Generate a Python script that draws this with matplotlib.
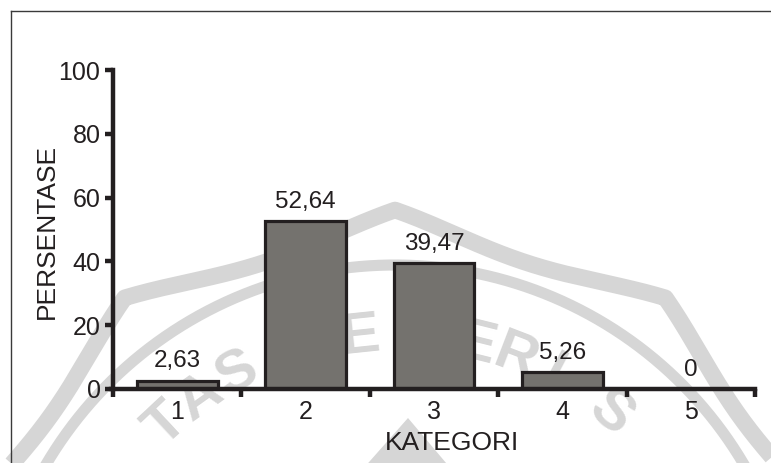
import numpy as np
import matplotlib
matplotlib.use("Agg")
import matplotlib.pyplot as plt
from matplotlib.lines import Line2D
from matplotlib.patches import Polygon
from matplotlib.ticker import FixedLocator, NullFormatter

# Data
categories = ["1", "2", "3", "4", "5"]
values = [2.63, 52.64, 39.47, 5.26, 0]
value_labels = ["2,63", "52,64", "39,47", "5,26", "0"]
y_ticks = [0, 20, 40, 60, 80, 100]

plt.rcParams["font.family"] = ["Liberation Sans", "DejaVu Sans"]

W, H = 771, 463
fig = plt.figure(figsize=(W / 100, H / 100), dpi=100)
fig.patch.set_facecolor("white")

# ---- faint seal watermark in the background (pixel coordinates) ----
bg = fig.add_axes([0, 0, 1, 1], zorder=0)
bg.set_xlim(0, W)
bg.set_ylim(H, 0)
bg.axis("off")
wm = "#d6d6d6"
cx, cy = 395, 670

th = np.radians(np.linspace(0, 180, 721))
# scalloped outer border
r_out = 428 + 32 * (1 - np.abs(np.sin(5 * (th - np.pi / 2))))
bg.plot(cx + r_out * np.cos(th), cy - r_out * np.sin(th), color=wm,
        lw=12, solid_capstyle="butt", zorder=0)
# inner ring above the lettering
r_in = 405
th_in = np.radians(np.linspace(20, 160, 400))
bg.plot(cx + r_in * np.cos(th_in), cy - r_in * np.sin(th_in), color=wm,
        lw=8, zorder=0)

# lettering around the seal: (character, angle in degrees)
seal_chars = ["T", "A", "S", "N", "E", "G", "E", "R", "I", "S"]
seal_angles = [133, 125.5, 118, 105, 96, 86, 76, 69, 62, 50]
r_txt = 335
for ch, ang in zip(seal_chars, seal_angles):
    a = np.radians(ang)
    bg.text(cx + r_txt * np.cos(a), cy - r_txt * np.sin(a), ch,
            rotation=ang - 90, ha="center", va="center", fontsize=42,
            fontweight="bold", color=wm, zorder=0,
            rotation_mode="anchor")
bg.add_patch(Polygon([[362, 470], [408, 418], [452, 470]], closed=True,
                     facecolor=wm, edgecolor="none", zorder=0))

# outer frame (top and left edges)
bg.add_line(Line2D([10.5, 10.5], [H + 5, 10.5], color="#3a3a3a", lw=1.0))
bg.add_line(Line2D([10.5, W + 5], [10.5, 10.5], color="#3a3a3a", lw=1.0))

# ---- bar chart ----
ax = fig.add_axes([113 / W, 1 - 389 / H, (755 - 113) / W, (389 - 70) / H],
                  zorder=1)
axis_col = "#231f20"
x = list(range(1, len(categories) + 1))
ax.bar(x, values, width=0.63, color="#74726e", edgecolor=axis_col,
       linewidth=2.3, zorder=3)

for xi, v, lab in zip(x, values, value_labels):
    ax.annotate(lab, (xi, v), xytext=(0, 6), textcoords="offset points",
                ha="center", va="bottom", fontsize=17.5, color=axis_col)

ax.set_xlim(0.5, 5.5)
ax.set_ylim(0, 100)
ax.set_yticks(y_ticks)
ax.set_yticklabels([str(t) for t in y_ticks])

# category boundaries get tick marks, category centres get labels
ax.xaxis.set_major_locator(FixedLocator([0.5, 1.5, 2.5, 3.5, 4.5, 5.5]))
ax.xaxis.set_major_formatter(NullFormatter())
ax.xaxis.set_minor_locator(FixedLocator(x))
ax.set_xticklabels(categories, minor=True)
ax.tick_params(axis="x", which="minor", length=0, pad=8, labelsize=18,
               labelcolor=axis_col)
ax.tick_params(axis="x", which="major", length=6, width=3.2, color=axis_col,
               direction="out")
ax.tick_params(axis="y", length=6, width=3.2, color=axis_col, pad=3,
               labelsize=18, labelcolor=axis_col)

for side in ["top", "right"]:
    ax.spines[side].set_visible(False)
for side in ["left", "bottom"]:
    ax.spines[side].set_linewidth(3.2)
    ax.spines[side].set_color(axis_col)
    ax.spines[side].set_zorder(4)
ax.spines["bottom"].set_bounds(0.5 - 0.015, 5.5)

ax.set_xlabel("KATEGORI", fontsize=19, color=axis_col)
ax.xaxis.set_label_coords(0.528, -0.132)
ax.set_ylabel("PERSENTASE", fontsize=19, color=axis_col)
ax.yaxis.set_label_coords(-0.085, 0.495)
ax.patch.set_alpha(0)

fig.savefig("out.png", dpi=100)
